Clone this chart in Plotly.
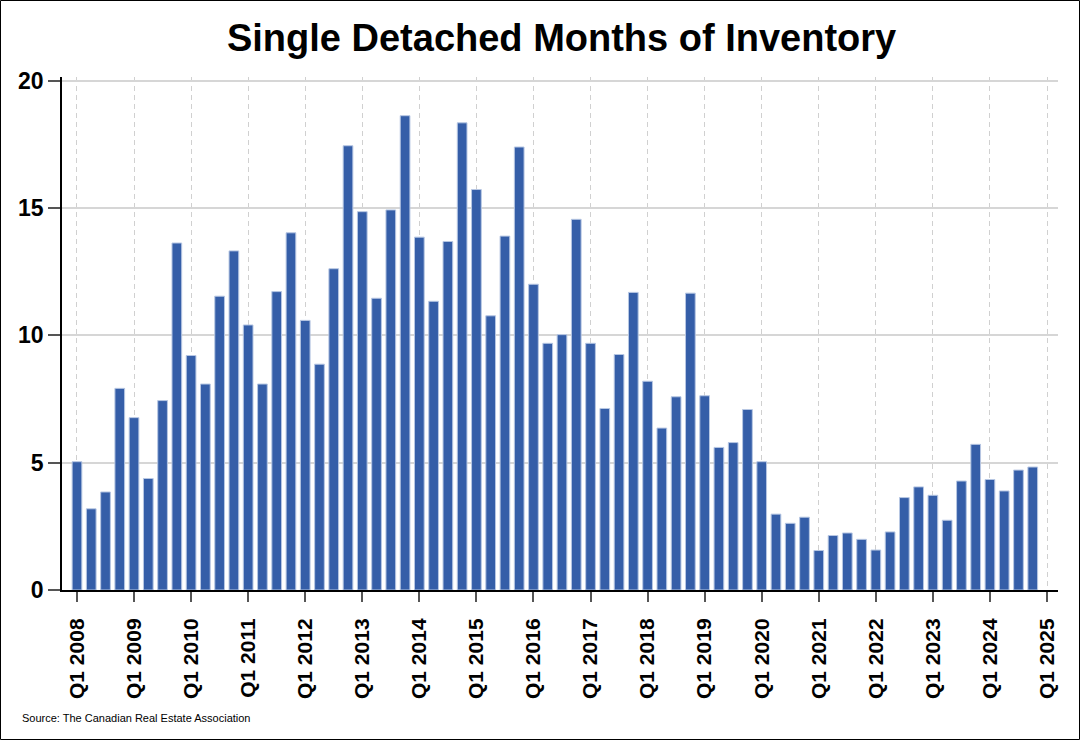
import plotly.graph_objects as go

years = list(range(2008, 2025))
quarters = [f"Q{q} {y}" for y in years for q in range(1, 5)]

months_inventory = [
    5.04, 3.19, 3.85, 7.92,
    6.77, 4.38, 7.44, 13.63,
    9.21, 8.09, 11.54, 13.32,
    10.41, 8.09, 11.72, 14.03,
    10.59, 8.87, 12.62, 17.45,
    14.86, 11.46, 14.93, 18.63,
    13.86, 11.34, 13.69, 18.35,
    15.73, 10.77, 13.90, 17.40,
    12.01, 9.69, 10.03, 14.56,
    9.69, 7.13, 9.25, 11.69,
    8.20, 6.36, 7.59, 11.66,
    7.63, 5.60, 5.79, 7.09,
    5.04, 2.98, 2.62, 2.86,
    1.55, 2.14, 2.24, 1.99,
    1.57, 2.28, 3.63, 4.05,
    3.72, 2.74, 4.28, 5.72,
    4.34, 3.89, 4.71, 4.83,
]

tick_labels = [f"Q1 {y}" for y in range(2008, 2026)]
tick_positions = [i * 4 for i in range(len(tick_labels))]
x_index = list(range(len(quarters)))

FONT = "Liberation Sans, Arial, sans-serif"

fig = go.Figure()
fig.add_trace(go.Bar(
    x=x_index,
    y=months_inventory,
    customdata=quarters,
    hovertemplate="%{customdata}: %{y}<extra></extra>",
    marker=dict(color="#355EA8", line=dict(color="#B7C7E3", width=1)),
    width=0.68,
))

L, R, T, B = 62, 22, 77, 150
W, H = 1080, 740
pw, ph = W - L - R, H - T - B

fig.update_layout(
    width=W, height=H,
    margin=dict(l=L, r=R, t=T, b=B),
    paper_bgcolor="white",
    plot_bgcolor="white",
    showlegend=False,
    title=dict(
        text="<b>Single Detached Months of Inventory</b>",
        font=dict(family=FONT, size=38, color="black"),
        x=0.52, xanchor="center", y=0.949, yanchor="middle",
    ),
    xaxis=dict(
        range=[-1.05, 68.77],
        tickmode="array",
        tickvals=tick_positions,
        ticktext=tick_labels,
        tickangle=-90,
        tickfont=dict(family=FONT, size=21, color="black", weight="bold"),
        ticks="outside", ticklen=10, tickcolor="#555555", tickwidth=2,
        ticklabelstandoff=8,
        showgrid=True, gridcolor="#D0D0D0", griddash="5px,4px", gridwidth=1,
        showline=True, linecolor="black", linewidth=2,
        zeroline=False,
    ),
    yaxis=dict(
        range=[0, 20.15],
        tickvals=[0, 5, 10, 15, 20],
        tickfont=dict(family=FONT, size=23, color="black", weight="bold"),
        ticks="outside", ticklen=12, tickcolor="#555555", tickwidth=2,
        showgrid=True, gridcolor="#D6D6D6", gridwidth=2,
        showline=True, linecolor="black", linewidth=1.5,
        zeroline=False,
    ),
    annotations=[dict(
        text="Source: The Canadian Real Estate Association",
        xref="paper", yref="paper",
        x=(20 - L) / pw, y=(H - B - 718) / ph,
        xanchor="left", yanchor="middle", showarrow=False,
        font=dict(family=FONT, size=11, color="black"),
    )],
    shapes=[dict(
        type="rect", xref="paper", yref="paper",
        x0=(0.5 - L) / pw, x1=(W - 0.5 - L) / pw,
        y0=(H - B - (H - 0.5)) / ph, y1=(H - B - 0.5) / ph,
        line=dict(color="black", width=1), fillcolor="rgba(0,0,0,0)",
        layer="above",
    )],
)

fig.write_html(
    "out.html",
    config={"displayModeBar": False},
    post_script="document.body.style.margin='0';document.body.style.overflow='hidden';",
)
